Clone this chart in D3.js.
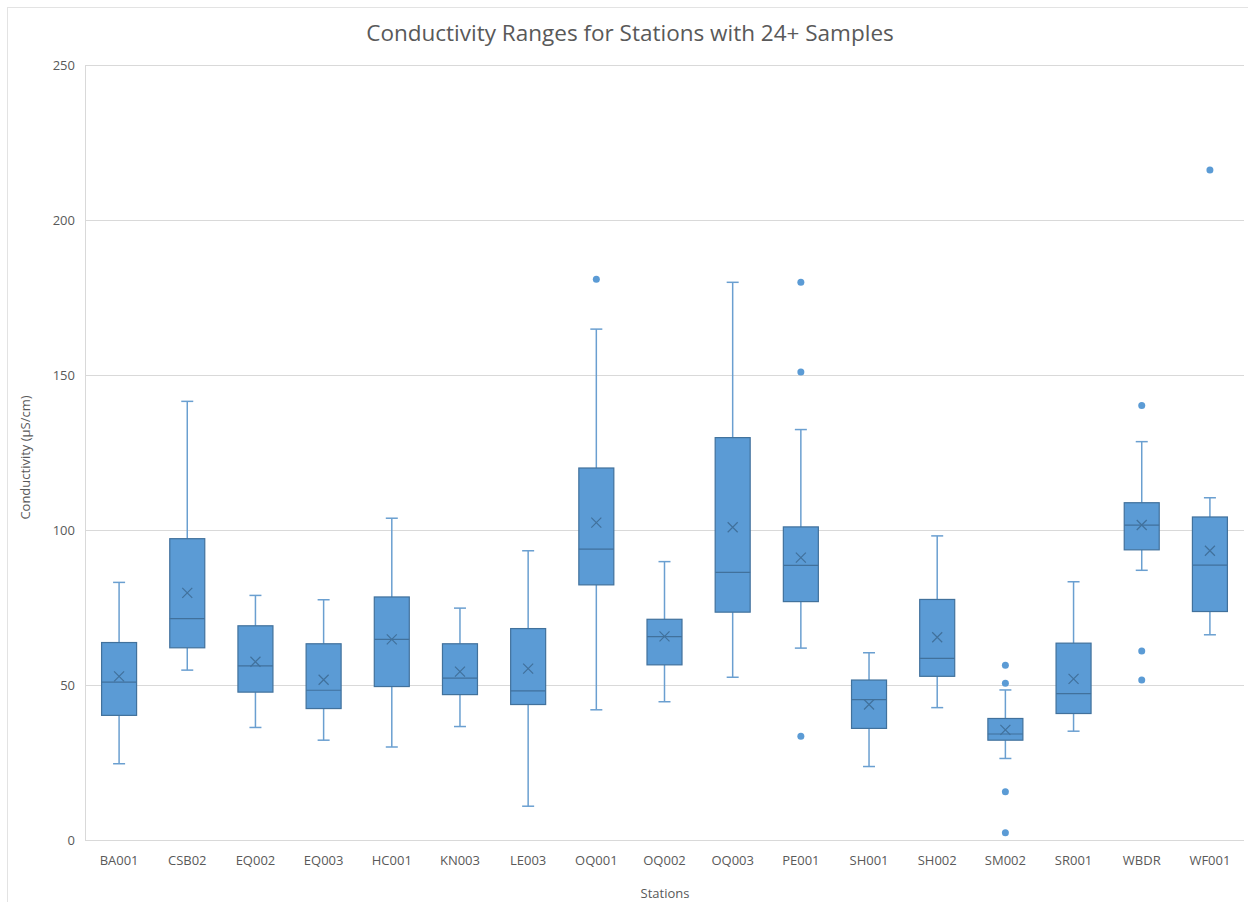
<!DOCTYPE html>
<html>
<head>
<meta charset="utf-8">
<script src="https://cdn.jsdelivr.net/npm/d3@7"></script>
<style>
body { margin: 0; background: #fff; }
text { font-family: "Open Sans", "Noto Sans", sans-serif; fill: #595959; }
</style>
</head>
<body>
<svg id="chart" width="1248" height="902"></svg>
<script>
// station names along the x axis
const stations = ['BA001', 'CSB02', 'EQ002', 'EQ003', 'HC001', 'KN003', 'LE003', 'OQ001', 'OQ002',
  'OQ003', 'PE001', 'SH001', 'SH002', 'SM002', 'SR001', 'WBDR', 'WF001'];

// box stats (µS/cm)
const whiskerLow  = [24.6, 54.8, 36.3, 32.2, 30.0, 36.6, 10.9, 42.0, 44.6, 52.5, 61.9, 23.7, 42.7, 26.3, 35.1, 87.0, 66.2];
const q1          = [40.2, 62.0, 47.7, 42.4, 49.5, 46.9, 43.7, 82.3, 56.5, 73.5, 76.9, 36.0, 52.8, 32.2, 40.8, 93.6, 73.7];
const median      = [50.9, 71.4, 56.2, 48.3, 64.7, 52.2, 48.1, 93.8, 65.6, 86.3, 88.6, 45.3, 58.6, 34.2, 47.2, 101.6, 88.7];
const q3          = [63.7, 97.2, 69.1, 63.3, 78.4, 63.3, 68.2, 120.0, 71.2, 129.8, 101.0, 51.6, 77.6, 39.2, 63.5, 108.8, 104.2];
const whiskerHigh = [83.1, 141.5, 78.9, 77.5, 103.8, 74.8, 93.3, 164.8, 89.8, 179.9, 132.4, 60.4, 98.1, 48.4, 83.3, 128.5, 110.4];
const mean        = [52.8, 79.7, 57.5, 51.7, 64.7, 54.3, 55.3, 102.4, 65.7, 100.9, 91.1, 43.7, 65.4, 35.5, 52.0, 101.6, 93.3];
const outliers    = [[], [], [], [], [], [], [], [180.9], [], [], [179.9, 151.0, 33.5], [], [],
  [56.4, 50.6, 15.6, 2.3], [], [140.2, 61.0, 51.6], [216.1]];

const yTicks = [0, 50, 100, 150, 200, 250];

const margin = { left: 85, right: 4, top: 65, bottom: 62 };
const W = 1248, H = 902;

const svg = d3.select('#chart');

// outer chart frame
svg.append('rect')
  .attr('x', 7.5).attr('y', 7.5)
  .attr('width', W + 10).attr('height', H + 10)
  .attr('fill', 'none').attr('stroke', '#e3e3e3');

const x = d3.scaleBand()
  .domain(stations)
  .range([margin.left, W - margin.right]);

const y = d3.scaleLinear()
  .domain([0, 250])
  .range([H - margin.bottom, margin.top]);

// grid
svg.append('g')
  .selectAll('line')
  .data(yTicks)
  .join('line')
  .attr('x1', margin.left).attr('x2', W - margin.right)
  .attr('y1', d => Math.round(y(d)) + 0.5).attr('y2', d => Math.round(y(d)) + 0.5)
  .attr('stroke', '#d9d9d9');

svg.append('line')
  .attr('x1', margin.left + 0.5).attr('x2', margin.left + 0.5)
  .attr('y1', y(250)).attr('y2', y(0))
  .attr('stroke', '#d9d9d9');

// y axis labels
const yAxis = svg.append('g')
  .attr('transform', `translate(${margin.left - 10},0)`)
  .call(d3.axisLeft(y).tickValues(yTicks).tickSize(0).tickPadding(0));
yAxis.select('.domain').remove();
yAxis.selectAll('text').style('font-size', '13px').attr('fill', '#595959');

// x axis labels
const xAxis = svg.append('g')
  .attr('transform', `translate(0,${y(0) + 16})`)
  .call(d3.axisBottom(x).tickSize(0).tickPadding(0));
xAxis.select('.domain').remove();
xAxis.selectAll('text').style('font-size', '13px').attr('fill', '#595959');

const boxW = 35, capW = 12;
const fill = '#5b9bd5', edge = '#41719c', whisk = '#6a9fd0';

const rows = stations.map((s, i) => ({
  s, lo: whiskerLow[i], q1: q1[i], med: median[i], q3: q3[i], hi: whiskerHigh[i], mean: mean[i], out: outliers[i]
}));

const g = svg.append('g')
  .selectAll('g')
  .data(rows)
  .join('g')
  .attr('transform', d => `translate(${x(d.s) + x.bandwidth() / 2},0)`);

// whiskers
g.append('line')
  .attr('x1', 0).attr('x2', 0)
  .attr('y1', d => y(d.hi)).attr('y2', d => y(d.q3))
  .attr('stroke', whisk).attr('stroke-width', 1.5);
g.append('line')
  .attr('x1', 0).attr('x2', 0)
  .attr('y1', d => y(d.q1)).attr('y2', d => y(d.lo))
  .attr('stroke', whisk).attr('stroke-width', 1.5);
g.append('line')
  .attr('x1', -capW / 2).attr('x2', capW / 2)
  .attr('y1', d => y(d.hi)).attr('y2', d => y(d.hi))
  .attr('stroke', whisk).attr('stroke-width', 1.5);
g.append('line')
  .attr('x1', -capW / 2).attr('x2', capW / 2)
  .attr('y1', d => y(d.lo)).attr('y2', d => y(d.lo))
  .attr('stroke', whisk).attr('stroke-width', 1.5);

// box
g.append('rect')
  .attr('x', -boxW / 2).attr('width', boxW)
  .attr('y', d => y(d.q3)).attr('height', d => y(d.q1) - y(d.q3))
  .attr('fill', fill).attr('stroke', edge).attr('stroke-width', 1.2);

// median
g.append('line')
  .attr('x1', -boxW / 2).attr('x2', boxW / 2)
  .attr('y1', d => y(d.med)).attr('y2', d => y(d.med))
  .attr('stroke', edge).attr('stroke-width', 1.2);

// mean marker
g.append('path')
  .attr('d', d => {
    const c = y(d.mean), r = 5;
    return `M${-r},${c - r}L${r},${c + r}M${-r},${c + r}L${r},${c - r}`;
  })
  .attr('stroke', edge).attr('stroke-width', 1.2).attr('fill', 'none');

// outlier points
g.selectAll('circle')
  .data(d => d.out)
  .join('circle')
  .attr('cx', 0).attr('cy', v => y(v))
  .attr('r', 3.5)
  .attr('fill', fill);

// titles
svg.append('text')
  .attr('x', 630).attr('y', 41)
  .attr('text-anchor', 'middle')
  .style('font-size', '22.5px')
  .text('Conductivity Ranges for Stations with 24+ Samples');

svg.append('text')
  .attr('x', 665).attr('y', 898)
  .attr('text-anchor', 'middle')
  .style('font-size', '13px')
  .text('Stations');

svg.append('text')
  .attr('transform', `translate(30,${(y(0) + y(250)) / 2 + 5}) rotate(-90)`)
  .attr('text-anchor', 'middle')
  .style('font-size', '13px')
  .text('Conductivity (µS/cm)');
</script>
</body>
</html>
